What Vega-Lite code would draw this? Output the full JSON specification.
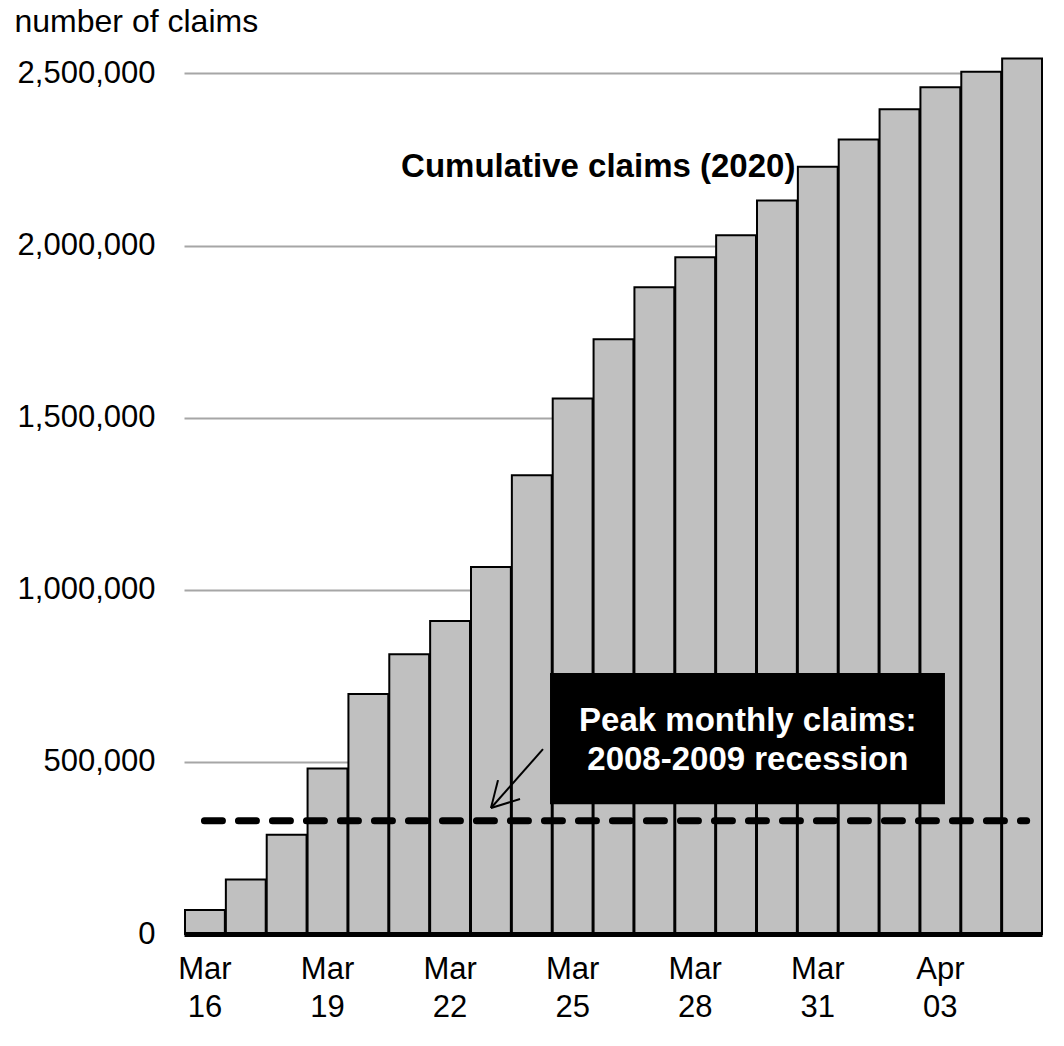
{
  "$schema": "https://vega.github.io/schema/vega-lite/v6.json",
  "autosize": "none",
  "width": 858,
  "height": 895,
  "padding": {"left": 184, "top": 39, "right": 22, "bottom": 112},
  "background": "white",
  "config": {
    "view": {"stroke": null},
    "font": "Liberation Sans"
  },
  "datasets": {
    "claims": [
      {"date": "2020-03-16T00:00:00", "claims": 70000},
      {"date": "2020-03-17T00:00:00", "claims": 158000},
      {"date": "2020-03-18T00:00:00", "claims": 288000},
      {"date": "2020-03-19T00:00:00", "claims": 481000},
      {"date": "2020-03-20T00:00:00", "claims": 697000},
      {"date": "2020-03-21T00:00:00", "claims": 813000},
      {"date": "2020-03-22T00:00:00", "claims": 909000},
      {"date": "2020-03-23T00:00:00", "claims": 1066000},
      {"date": "2020-03-24T00:00:00", "claims": 1333000},
      {"date": "2020-03-25T00:00:00", "claims": 1556000},
      {"date": "2020-03-26T00:00:00", "claims": 1728000},
      {"date": "2020-03-27T00:00:00", "claims": 1879000},
      {"date": "2020-03-28T00:00:00", "claims": 1966000},
      {"date": "2020-03-29T00:00:00", "claims": 2030000},
      {"date": "2020-03-30T00:00:00", "claims": 2131000},
      {"date": "2020-03-31T00:00:00", "claims": 2229000},
      {"date": "2020-04-01T00:00:00", "claims": 2308000},
      {"date": "2020-04-02T00:00:00", "claims": 2396000},
      {"date": "2020-04-03T00:00:00", "claims": 2460000},
      {"date": "2020-04-04T00:00:00", "claims": 2505000},
      {"date": "2020-04-05T00:00:00", "claims": 2543000}
    ],
    "peak": [
      {"start": "2020-03-16T12:00:00", "end": "2020-04-05T15:00:00", "claims": 329000}
    ],
    "box": [
      {"start": "2020-03-24T23:00:00", "end": "2020-04-03T15:00:00", "low": 377000, "high": 758000}
    ],
    "boxText": [
      {"date": "2020-03-29T19:12:00", "claims": 589000, "label": "Peak monthly claims:"},
      {"date": "2020-03-29T19:12:00", "claims": 476000, "label": "2008-2009 recession"}
    ],
    "arrow": [
      {"start": "2020-03-24T18:53:00", "from": 537000, "end": "2020-03-23T12:20:00", "to": 366000},
      {"start": "2020-03-23T16:27:00", "from": 447000, "end": "2020-03-23T12:20:00", "to": 366000},
      {"start": "2020-03-24T05:23:00", "from": 392000, "end": "2020-03-23T12:20:00", "to": 366000}
    ],
    "series": [
      {"date": "2020-03-21T07:30:00", "claims": 2198000, "label": "Cumulative claims (2020)"}
    ]
  },
  "layer": [
    {
      "data": {"name": "claims"},
      "mark": {"type": "bar", "fill": "#c0c0c0", "stroke": "black", "strokeWidth": 2},
      "encoding": {
        "x": {
          "field": "date",
          "type": "temporal",
          "timeUnit": "yearmonthdate",
          "scale": {"domain": [{"year": 2020, "month": 3, "date": 16}, {"year": 2020, "month": 4, "date": 6}], "nice": false},
          "axis": {
            "title": null,
            "values": [
              {"year": 2020, "month": 3, "date": 16, "hours": 12},
              {"year": 2020, "month": 3, "date": 19, "hours": 12},
              {"year": 2020, "month": 3, "date": 22, "hours": 12},
              {"year": 2020, "month": 3, "date": 25, "hours": 12},
              {"year": 2020, "month": 3, "date": 28, "hours": 12},
              {"year": 2020, "month": 3, "date": 31, "hours": 12},
              {"year": 2020, "month": 4, "date": 3, "hours": 12}
            ],
            "labelExpr": "[timeFormat(datum.value, '%b'), timeFormat(datum.value, '%d')]",
            "labelFontSize": 31,
            "labelColor": "black",
            "labelLineHeight": 38,
            "labelPadding": 20,
            "labelFlush": false,
            "labelOverlap": false,
            "ticks": false,
            "grid": false,
            "domainColor": "black",
            "domainWidth": 5,
            "zindex": 2
          }
        },
        "y": {
          "field": "claims",
          "type": "quantitative",
          "scale": {"domain": [0, 2600000], "nice": false},
          "axis": {
            "values": [0, 500000, 1000000, 1500000, 2000000, 2500000],
            "labelExpr": "format(datum.value, ',')",
            "title": "number of claims",
            "titleAngle": 0,
            "titleAlign": "left",
            "titleBaseline": "alphabetic",
            "titleX": -170,
            "titleY": -8,
            "titleFontSize": 32,
            "titleFontWeight": "normal",
            "titleColor": "black",
            "labelFontSize": 31,
            "labelColor": "black",
            "labelPadding": 29,
            "ticks": false,
            "domain": false,
            "grid": true,
            "gridColor": "#a6a6a6",
            "gridWidth": 2
          }
        }
      }
    },
    {
      "data": {"name": "peak"},
      "mark": {"type": "rule", "stroke": "black", "strokeWidth": 7, "strokeDash": [18, 16], "strokeCap": "round"},
      "encoding": {
        "x": {"field": "start", "type": "temporal"},
        "x2": {"field": "end"},
        "y": {"field": "claims", "type": "quantitative"}
      }
    },
    {
      "data": {"name": "box"},
      "mark": {"type": "rect", "fill": "black"},
      "encoding": {
        "x": {"field": "start", "type": "temporal"},
        "x2": {"field": "end"},
        "y": {"field": "low", "type": "quantitative"},
        "y2": {"field": "high"}
      }
    },
    {
      "data": {"name": "boxText"},
      "mark": {"type": "text", "color": "white", "fontSize": 33, "fontWeight": "bold", "align": "center", "baseline": "alphabetic"},
      "encoding": {
        "x": {"field": "date", "type": "temporal"},
        "y": {"field": "claims", "type": "quantitative"},
        "text": {"field": "label"}
      }
    },
    {
      "data": {"name": "arrow"},
      "mark": {"type": "rule", "stroke": "black", "strokeWidth": 2},
      "encoding": {
        "x": {"field": "start", "type": "temporal"},
        "x2": {"field": "end"},
        "y": {"field": "from", "type": "quantitative"},
        "y2": {"field": "to"}
      }
    },
    {
      "data": {"name": "series"},
      "mark": {"type": "text", "color": "black", "fontSize": 33, "fontWeight": "bold", "align": "left", "baseline": "alphabetic"},
      "encoding": {
        "x": {"field": "date", "type": "temporal"},
        "y": {"field": "claims", "type": "quantitative"},
        "text": {"field": "label"}
      }
    }
  ]
}
